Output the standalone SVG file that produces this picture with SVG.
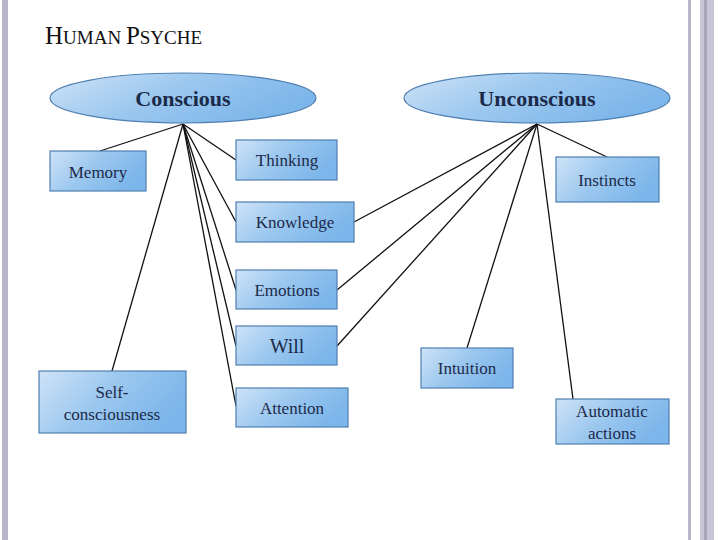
<svg xmlns="http://www.w3.org/2000/svg" width="720" height="540" viewBox="0 0 720 540">
<defs>
<linearGradient id="g" x1="0" y1="0" x2="1" y2="0.4">
<stop offset="0" stop-color="#cfe3f7"/><stop offset="0.5" stop-color="#9cc8ef"/><stop offset="1" stop-color="#7db6ea"/>
</linearGradient>
<style>
.b{fill:url(#g);stroke:#4f7fb0;stroke-width:1.2}
.t{font-family:"Liberation Serif",serif;font-size:17px;fill:#1c2a4a;text-anchor:middle}
.e{font-family:"Liberation Serif",serif;font-size:22px;font-weight:bold;fill:#1c2a4a;text-anchor:middle}
.c line{stroke:#111;stroke-width:1.3}
</style>
</defs>
<rect width="720" height="540" fill="#fff"/>
<rect x="2" y="0" width="6" height="540" fill="#b8b6c8"/>
<rect x="688" y="0" width="3" height="540" fill="#b8b6c8"/>
<rect x="700" y="0" width="14" height="540" fill="#c8c6d6"/>
<rect x="704" y="0" width="3" height="540" fill="#a8a6b8"/>
<text x="45" y="44" font-family="Liberation Serif,serif" font-size="25" fill="#111">H<tspan font-size="19">UMAN </tspan>P<tspan font-size="19">SYCHE</tspan></text>
<g class="c">
<line x1="183" y1="124" x2="100" y2="151"/>
<line x1="183" y1="124" x2="236" y2="160"/>
<line x1="183" y1="124" x2="236" y2="222"/>
<line x1="183" y1="124" x2="236" y2="290"/>
<line x1="183" y1="124" x2="236" y2="346"/>
<line x1="183" y1="124" x2="236" y2="406"/>
<line x1="183" y1="124" x2="112" y2="371"/>
<line x1="537" y1="124" x2="607" y2="157"/>
<line x1="537" y1="124" x2="354" y2="222"/>
<line x1="537" y1="124" x2="337" y2="290"/>
<line x1="537" y1="124" x2="337" y2="346"/>
<line x1="537" y1="124" x2="467" y2="348"/>
<line x1="537" y1="124" x2="573" y2="399"/>
</g>
<g id="conscious"><ellipse class="b" cx="183" cy="98" rx="133" ry="25"/><text class="e" x="183" y="106">Conscious</text></g>
<g id="unconscious"><ellipse class="b" cx="537" cy="98" rx="133" ry="25"/><text class="e" x="537" y="106">Unconscious</text></g>
<g id="memory"><rect class="b" x="50" y="151" width="96" height="40"/><text class="t" x="98" y="178">Memory</text></g>
<g id="thinking"><rect class="b" x="236" y="140" width="101" height="40"/><text class="t" x="287" y="166">Thinking</text></g>
<g id="instincts"><rect class="b" x="556" y="157" width="103" height="45"/><text class="t" x="607" y="186">Instincts</text></g>
<g id="knowledge"><rect class="b" x="236" y="202" width="118" height="40"/><text class="t" x="295" y="228">Knowledge</text></g>
<g id="emotions"><rect class="b" x="236" y="270" width="101" height="39"/><text class="t" x="287" y="296">Emotions</text></g>
<g id="will"><rect class="b" x="236" y="326" width="101" height="39"/><text class="t" x="287" y="353" style="font-size:20px">Will</text></g>
<g id="intuition"><rect class="b" x="421" y="348" width="92" height="40"/><text class="t" x="467" y="374">Intuition</text></g>
<g id="self"><rect class="b" x="39" y="371" width="147" height="62"/><text class="t" x="112" y="398">Self-</text><text class="t" x="112" y="420">consciousness</text></g>
<g id="attention"><rect class="b" x="236" y="388" width="112" height="39"/><text class="t" x="292" y="414">Attention</text></g>
<g id="automatic"><rect class="b" x="556" y="399" width="113" height="45"/><text class="t" x="612" y="417">Automatic</text><text class="t" x="612" y="439">actions</text></g>
</svg>
